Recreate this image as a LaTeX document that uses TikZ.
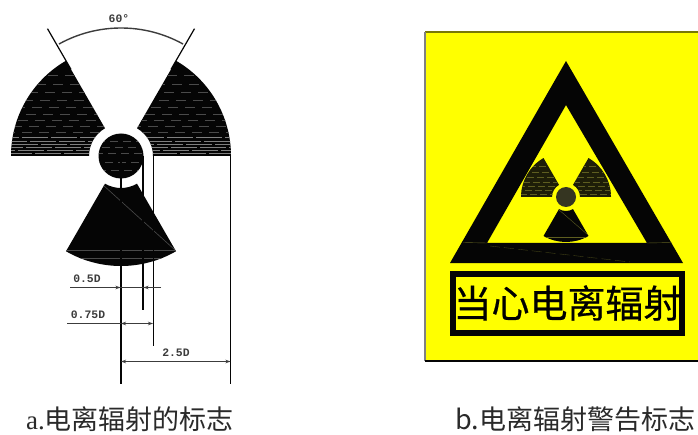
\documentclass[tikz,border=0pt]{standalone}
\usepackage{fontspec}
\setmainfont{Liberation Serif}
\newfontfamily\cjk{Noto Sans CJK SC}
\newfontfamily\cjkheavy{Noto Sans CJK SC}[FakeBold=0.6]
\newfontfamily\cad{Liberation Mono}
\usetikzlibrary{arrows.meta}
\definecolor{ink}{HTML}{050505}
\definecolor{cadgray}{HTML}{3C3C3C}
\definecolor{capgray}{HTML}{2A2A2A}
\definecolor{olive}{HTML}{1E1E08}
\definecolor{signyellow}{HTML}{FFFF00}
\definecolor{streakdark}{HTML}{4A4A4A}
\definecolor{streaklight}{HTML}{808080}
\definecolor{streakolive}{HTML}{5E5E20}
\tikzset{
  dimline/.style={draw=cadgray,line width=1.2pt},
  extline/.style={draw=ink,line width=1.2pt},
  dimtip/.style={-{Stealth[length=5pt,width=3.5pt]}},
  dimboth/.style={{Stealth[length=5pt,width=3.5pt]}-{Stealth[length=5pt,width=3.5pt]}},
  cadtext/.style={text=cadgray,inner sep=0pt,font=\cad\bfseries\fontsize{11.4}{12}\selectfont},
  caption/.style={text=capgray,inner sep=0pt,anchor=west},
  streak/.style={draw=#1,line width=.6pt},
}
\newcommand{\bladepath}[4]{(#1:#3) -- (#1:#4) arc[start angle=#1,delta angle=#2,radius=#4] -- ({#1+#2}:#3) arc[start angle={#1+#2},delta angle={-#2},radius=#3] -- cycle}
\newcommand{\bladefill}[5]{\fill[#5] \bladepath{#1}{#2}{#3}{#4};}
\begin{document}
\begin{tikzpicture}[x=1pt,y=1pt]
\useasboundingbox (0,0) rectangle (698,434);
\fill[white] (0,0) rectangle (698,434);

% ---------- a: symbol with dimensions
\begin{scope}[shift={(121,278)}]
  \foreach \a in {0,120,240}{\bladefill{\a}{60}{32}{110}{ink}}
  \begin{scope}
    \clip \bladepath{0}{60}{32}{110} \bladepath{120}{60}{32}{110};
    \foreach \y/\p in {3/0,6/17,9/9,12/23,15/5,19/13}{
      \draw[streak=streaklight,dash pattern=on 26pt off 3pt,dash phase=\p pt] (-115,\y) -- (115,\y);
    }
    \foreach \y/\p in {24/1,30/11,36/5,42/14,49/8,56/0,64/12,72/4,81/9}{
      \draw[streak=streakdark,dash pattern=on 10pt off 7pt,dash phase=\p pt] (-115,\y) -- (115,\y);
    }
  \end{scope}
  \begin{scope}
    \clip \bladepath{240}{60}{32}{110};
    \draw[streak=streakdark] (-55,-94) -- (55,-94);
    \draw[streak=streakdark] (-50,-102) -- (50,-102);
    \draw[streak=streakdark] (-18,-29) -- (54,-94);
  \end{scope}
  \fill[ink] (0,0) circle[radius=22.5];
  \begin{scope}
    \clip (0,0) circle[radius=22.5];
    \foreach \y/\p in {-14/0,-6/6,3/3,9/9,15/1}{
      \draw[streak=streakdark,dash pattern=on 8pt off 5pt,dash phase=\p pt] (-23,\y) -- (23,\y);
    }
  \end{scope}
  % angle
  \coordinate (ll) at (120:147);
  \coordinate (lb) at (120:100);
  \coordinate (rl) at (60:147);
  \coordinate (rb) at (60:100);
  \draw[draw=ink,line width=1.2pt] (lb) -- (ll);
  \draw[draw=ink,line width=1.2pt] (rb) -- (rl);
  \draw[draw=cadgray,line width=1.4pt] (61:128) arc[start angle=61,end angle=119,radius=128];
\end{scope}
\node[cadtext] (angle) at (119,415) {60°};

\coordinate (e1t) at (121,279);  \coordinate (e1b) at (121,50);
\coordinate (e2t) at (143,278);  \coordinate (e2b) at (143,124);
\coordinate (e3t) at (153.5,278);\coordinate (e3b) at (153.5,88);
\coordinate (e4t) at (230.5,278);\coordinate (e4b) at (230.5,50);
\draw[extline] (e1t) -- (e1b);
\draw[extline] (e2t) -- (e2b);
\draw[extline] (e3t) -- (e3b);
\draw[extline] (e4t) -- (e4b);

% 0.5D
\coordinate (a1) at (70,146.5); \coordinate (a1t) at (120.5,146.5);
\coordinate (a2) at (161,146.5); \coordinate (a2t) at (143.5,146.5);
\draw[dimline] (a1) -- (a2);
\draw[dimline,dimtip] (a1) -- (a1t);
\draw[dimline,dimtip] (a2) -- (a2t);
\node[cadtext] (d05) at (87,155) {0.5D};
% 0.75D
\coordinate (b1) at (67,110.5); \coordinate (b2) at (121,110.5); \coordinate (b3) at (153,110.5);
\draw[dimline] (b1) -- (b2);
\draw[dimline,dimboth] (b2) -- (b3);
\node[cadtext] (d075) at (88,119) {0.75D};
% 2.5D
\coordinate (c1) at (121,72.5); \coordinate (c2) at (230.5,72.5);
\draw[dimline,dimboth] (c1) -- (c2);
\node[cadtext] (d25) at (176,81) {2.5D};

\node[caption] (capa) at (26,15) {\fontsize{27}{30}\selectfont a.\cjk 电离辐射的标志};

% ---------- b: warning sign
\fill[signyellow] (425,73) rectangle (698,402);
\draw[draw=olive!60!signyellow,line width=1.3pt] (698,402) -- (425,402);
\draw[draw=gray,line width=1.2pt] (425,402) -- (425,73);
\draw[draw=ink,line width=1.3pt] (425,73) -- (698,73);

\fill[ink,even odd rule] (566,373) -- (683,171) -- (450,171) -- cycle
                         (566,329) -- (647,191) -- (487,191) -- cycle;
\draw[draw=streakolive,line width=.4pt] (463,191.5) -- (487,191);
\draw[draw=streakolive,line width=.4pt] (647,191) -- (672,191.5);
\draw[draw=streakolive!70!black,line width=.4pt,dash pattern=on 10pt off 4pt] (490,188) -- (630,172);

\begin{scope}[shift={(566,237)}]
  \bladefill{0}{60}{14}{45}{olive}
  \bladefill{120}{60}{14}{45}{olive}
  \bladefill{240}{60}{14}{45}{ink}
  \begin{scope}
    \clip \bladepath{0}{60}{14}{45} \bladepath{120}{60}{14}{45};
    \foreach \y/\p in {3/0,7/5,11/2,15/7,20/3,25/8,31/1}{
      \draw[streak=streakolive,line width=.5pt,dash pattern=on 7pt off 3pt,dash phase=\p pt] (-46,\y) -- (46,\y);
    }
  \end{scope}
  \begin{scope}
    \clip \bladepath{240}{60}{14}{45};
    \draw[streak=streakolive,line width=.4pt] (-23,-40) -- (23,-40);
    \draw[streak=streakolive,line width=.4pt] (-8,-12) -- (22,-38);
  \end{scope}
  \fill[olive!90!white] (0,0) circle[radius=10];
\end{scope}

\draw[ink,line width=5.6pt] (452.8,100.8) rectangle (681.8,160.2);
\node[inner sep=0pt,text=black] (warn) at (567.5,131) {\cjkheavy\fontsize{38}{40}\selectfont 当心电离辐射};

\node[caption] (capb) at (455,15) {\fontsize{27}{30}\selectfont\cjk b.电离辐射警告标志};
\end{tikzpicture}
\end{document}
